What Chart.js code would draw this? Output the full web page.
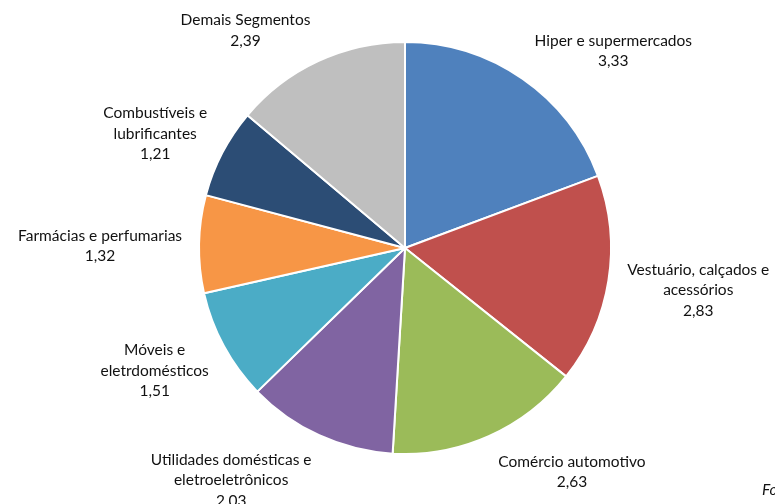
<!DOCTYPE html>
<html>
<head>
<meta charset="utf-8">
<script src="https://cdn.jsdelivr.net/npm/chart.js@4"></script>
<style>
  html, body { margin: 0; padding: 0; background: #fff; }
  #wrap { width: 775px; height: 504px; position: relative; }
</style>
</head>
<body>
<div id="wrap"><canvas id="pieChart" width="775" height="504"></canvas></div>
<script>
// Dados
const categorias = [
    ["Hiper e supermercados"],
    ["Vestuário, calçados e", "acessórios"],
    ["Comércio automotivo"],
    ["Utilidades domésticas e", "eletroeletrônicos"],
    ["Móveis e", "eletrdomésticos"],
    ["Farmácias e perfumarias"],
    ["Combustíveis e", "lubrificantes"],
    ["Demais Segmentos"]
];
const valores = [3.33, 2.83, 2.63, 2.03, 1.51, 1.32, 1.21, 2.39];
const cores = ["#4F81BD", "#C0504D", "#9BBB59", "#8064A2", "#4BACC6", "#F79646", "#2C4D75", "#BFBFBF"];

const fonte = "15.5px Lato";
const alturaLinha = 20.5;

// Rótulos fora das fatias (estilo Excel)
const rotulosPlugin = {
    id: "rotulos",
    afterDatasetsDraw(chart) {
        const ctx = chart.ctx;
        const meta = chart.getDatasetMeta(0);
        ctx.save();
        ctx.font = fonte;
        ctx.fillStyle = "#111111";
        ctx.textBaseline = "middle";
        ctx.textAlign = "center";
        meta.data.forEach((arc, i) => {
            const p = arc.getProps(["x", "y", "startAngle", "endAngle", "outerRadius"], true);
            const mid = (p.startAngle + p.endAngle) / 2;
            const r = p.outerRadius + 16;
            const ax = p.x + Math.cos(mid) * r;
            const ay = p.y + Math.sin(mid) * r;
            const linhas = categorias[i].concat([valores[i].toFixed(2).replace(".", ",")]);
            const w = Math.max(...linhas.map(l => ctx.measureText(l).width));
            const h = linhas.length * alturaLinha;
            // ângulo a partir do topo, sentido horário
            const theta = mid + Math.PI / 2;
            const left = Math.sin(theta) >= 0 ? ax + 3 : ax - w - 1;
            const top = ay - h * (1 + Math.cos(theta)) / 2 + 2.5;
            linhas.forEach((l, k) => {
                ctx.fillText(l, left + w / 2, top + alturaLinha * (k + 0.5));
            });
        });
        ctx.font = "italic 15.5px Lato";
        ctx.textAlign = "left";
        ctx.fillText("Fonte: IBGE", 762, 490);
        ctx.restore();
    }
};

new Chart(document.getElementById("pieChart").getContext("2d"), {
    type: "pie",
    data: {
        labels: categorias,
        datasets: [{
            data: valores,
            backgroundColor: cores,
            borderColor: "#ffffff",
            borderWidth: 2
        }]
    },
    options: {
        responsive: false,
        animation: false,
        layout: { padding: { top: 41, bottom: 49, left: 100, right: 65 } },
        plugins: {
            legend: { display: false },
            tooltip: { enabled: false },
            title: { display: false }
        }
    },
    plugins: [rotulosPlugin]
});
</script>
</body>
</html>
